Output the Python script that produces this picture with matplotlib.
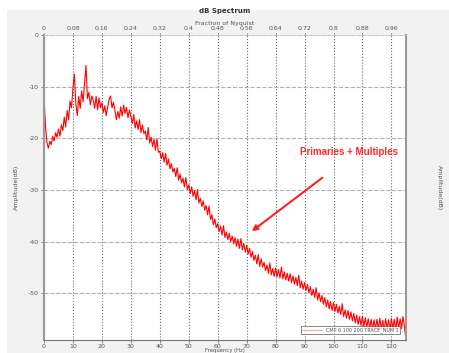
import matplotlib
matplotlib.use("Agg")
import matplotlib.pyplot as plt
import numpy as np
from matplotlib.patches import Rectangle

plt.rcParams["axes.unicode_minus"] = False

# amplitude spectrum, one value every 0.5 Hz from 0 to 125 Hz
freq_step = 0.5
amplitude_db = [
    -12.0, -17.5, -20.8, -21.9, -20.6, -21.2, -19.6, -20.5, -18.9, -19.8,
    -18.2, -19.6, -17.4, -18.5, -15.9, -17.8, -14.6, -16.4, -12.8, -14.1,
    -10.2, -7.6, -13.4, -15.6, -11.9, -14.2, -10.8, -12.9, -9.3, -5.9,
    -12.3, -11.1, -13.5, -11.8, -12.6, -14.2, -11.9, -14.5, -12.2, -14.1,
    -13.1, -15.0, -13.7, -15.6, -13.9, -12.4, -11.8, -14.1, -13.0, -14.6,
    -16.4, -14.8, -16.1, -13.9, -15.7, -13.6, -15.2, -14.0, -16.0, -14.5,
    -15.8, -17.1, -15.4, -18.0, -16.6, -18.3, -16.4, -18.9, -17.4, -19.1,
    -18.6, -20.3, -17.9, -20.9, -19.8, -21.6, -20.2, -22.3, -20.1, -22.7,
    -22.5, -23.9, -22.8, -24.6, -22.9, -25.2, -24.0, -25.9, -24.9, -26.5,
    -25.8, -27.4, -25.7, -28.1, -26.9, -28.6, -27.7, -29.4, -27.6, -29.9,
    -29.0, -30.7, -29.4, -31.2, -30.1, -31.9, -29.9, -32.5, -31.6, -33.2,
    -32.1, -33.9, -33.0, -34.8, -33.1, -35.7, -34.8, -36.7, -35.6, -37.3,
    -36.5, -38.0, -37.0, -38.7, -36.9, -39.2, -38.1, -39.6, -38.4, -40.0,
    -38.9, -40.4, -39.2, -40.9, -39.5, -41.3, -39.4, -41.6, -40.3, -42.0,
    -40.7, -42.4, -41.3, -43.0, -41.9, -43.6, -42.6, -44.3, -42.5, -44.8,
    -43.3, -44.9, -44.0, -45.6, -44.5, -46.1, -44.1, -46.4, -45.2, -46.7,
    -45.1, -46.8, -45.4, -47.0, -44.9, -47.2, -45.8, -47.4, -46.1, -47.6,
    -46.2, -47.9, -46.6, -48.2, -46.9, -48.5, -46.5, -48.9, -47.6, -49.2,
    -47.9, -49.4, -48.3, -49.9, -48.7, -50.4, -49.2, -50.8, -48.9, -51.3,
    -49.9, -51.6, -50.4, -52.1, -50.8, -52.6, -51.3, -53.0, -51.6, -53.3,
    -51.8, -53.5, -52.1, -53.8, -52.5, -54.1, -52.0, -54.5, -53.2, -54.8,
    -53.3, -55.0, -53.6, -55.3, -53.9, -55.7, -54.2, -56.0, -54.5, -56.2,
    -54.4, -56.4, -54.7, -56.6, -54.9, -56.8, -55.0, -57.0, -55.1, -56.9,
    -55.0, -57.0, -54.8, -56.9, -55.2, -57.1, -54.9, -56.8, -55.1, -57.0,
    -54.8, -56.9, -55.0, -57.1, -54.6, -56.7, -54.9, -56.8, -54.5, -56.5,
    -58.8,
]
freq_hz = np.arange(len(amplitude_db)) * freq_step

nyquist = 125
freq_ticks = [0, 10, 20, 30, 40, 50, 60, 70, 80, 90, 100, 110, 120]
nyquist_ticks = [0, 0.08, 0.16, 0.24, 0.32, 0.4, 0.48, 0.56, 0.64, 0.72, 0.8, 0.88, 0.96]
db_ticks = [0, -10, -20, -30, -40, -50]
trace_label = "CMP 6 100 200 TRACE_NUM 1"

label_color = "#555555"

fig = plt.figure(figsize=(4.49, 3.53), dpi=100, facecolor="white")
fig.patches.append(Rectangle((0.016, 0.0), 0.984, 0.972, transform=fig.transFigure,
                             facecolor="#f2f2f2", edgecolor="none", zorder=-10))

ax = fig.add_axes([0.098, 0.037, 0.806, 0.864])
ax.set_facecolor("white")
ax.plot(freq_hz, amplitude_db, color="#ff0000", lw=0.8, label=trace_label)

ax.set_xlim(0, nyquist)
ax.set_ylim(-59, 0)
ax.set_xticks(freq_ticks)
ax.set_yticks(db_ticks)
ax.tick_params(labelsize=4.5, colors=label_color, length=2, width=0.5,
               left=True, right=True, labelleft=True, labelright=True, pad=2)
ax.tick_params(axis="x", pad=1)
ax.grid(axis="x", linestyle=":", color="#666666", lw=0.8)
ax.grid(axis="y", linestyle="--", color="#b0b0b0", lw=0.8)

for side in ("left", "right"):
    ax.spines[side].set_color("#999999")
    ax.spines[side].set_linewidth(1.5)
ax.spines["bottom"].set_color("#777777")
ax.spines["top"].set_color("#cccccc")
ax.spines["top"].set_linewidth(0.6)

ax.set_xlabel("Frequency (Hz)", fontsize=3.8, color=label_color, labelpad=-0.5)
ax.set_ylabel("Amplitude(dB)", fontsize=4.5, color=label_color, labelpad=7)
ax_r = ax.twinx()
ax_r.set_ylim(ax.get_ylim())
ax_r.set_yticks([])
for s in ax_r.spines.values():
    s.set_visible(False)
ax_r.set_ylabel("Amplitude(dB)", fontsize=4.5, color=label_color, rotation=-90, labelpad=26)

# fraction of Nyquist on the top axis
ax_top = ax.secondary_xaxis("top", functions=(lambda f: f / nyquist, lambda r: r * nyquist))
ax_top.set_xticks(nyquist_ticks)
ax_top.set_xticklabels([("%g" % t) for t in nyquist_ticks])
ax_top.tick_params(labelsize=4.5, colors=label_color, length=1.5, width=0.5, pad=1)
ax_top.spines["top"].set_visible(False)
ax_top.set_xlabel("Fraction of Nyquist", fontsize=4.5, color=label_color, labelpad=1)
ax.set_title("dB Spectrum", fontsize=5, color="#333333", fontweight="bold", pad=16)

leg = ax.legend(loc="lower right", fontsize=3.5, frameon=True, fancybox=False,
                borderpad=0.3, handlelength=4, bbox_to_anchor=(0.99, 0.01))
leg.get_frame().set_edgecolor(label_color)
leg.get_frame().set_linewidth(0.6)
for line in leg.get_lines():
    line.set_color("#ffaaaa")
for t in leg.get_texts():
    t.set_color(label_color)

ax.annotate("", xy=(71.0, -38.3), xytext=(96.9, -27.3),
            arrowprops=dict(arrowstyle="-|>", color="#ff2020", lw=1.5, mutation_scale=8))
ax.text(88.5, -22.7, "Primaries + Multiples", color="#ff2a2a", fontsize=7,
        fontweight="bold", family="Liberation Sans", va="center", ha="left")

fig.savefig("out.png", dpi=100, facecolor=fig.get_facecolor())
